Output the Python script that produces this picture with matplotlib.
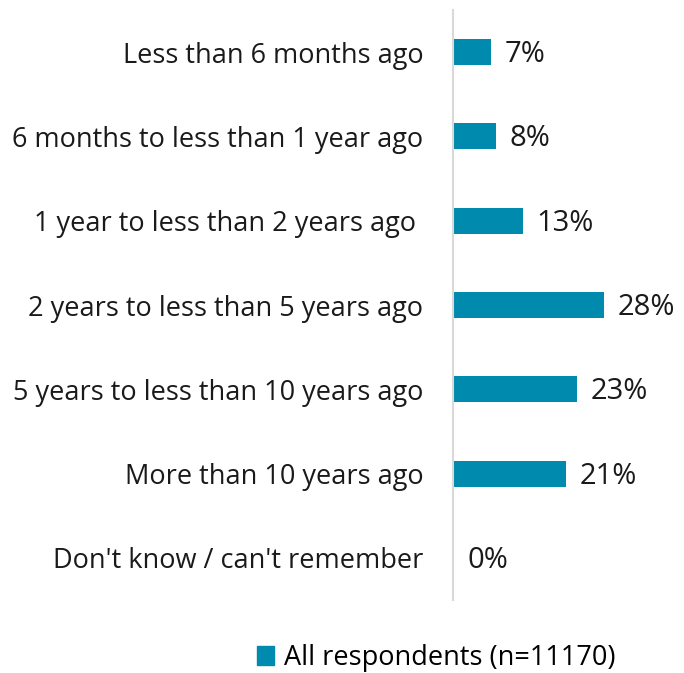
import matplotlib.pyplot as plt
from matplotlib.patches import Patch

categories = [
    "Less than 6 months ago",
    "6 months to less than 1 year ago",
    "1 year to less than 2 years ago ",
    "2 years to less than 5 years ago",
    "5 years to less than 10 years ago",
    "More than 10 years ago",
    "Don't know / can't remember",
]
values = [7, 8, 13, 28, 23, 21, 0.15]
labels = ["7%", "8%", "13%", "28%", "23%", "21%", "0%"]
series_name = "All respondents (n=11170)"
bar_color = "#008AAD"

plt.rcParams['font.family'] = ['Open Sans', 'DejaVu Sans']
fs = 19.5

fig = plt.figure(figsize=(6.84, 6.73), dpi=100)
W, H = 684, 673
ax = fig.add_axes([453 / W, 1 - 600 / H, (684 - 453) / W, 590 / H])

y = list(range(len(categories)))
ax.barh(y, values, height=0.31, color=bar_color)
ax.set_ylim(len(categories) - 0.5, -0.5)
ax.set_xlim(0, 42.8)

# value labels next to the bars
for yi, v, lab in zip(y, values, labels):
    ax.text(v + 2.5, yi + 0.03, lab, va="center", ha="left", fontsize=21, color="#1a1a1a")

ax.set_yticks(y)
ax.set_yticklabels(categories, fontsize=fs, color="#1a1a1a")
ax.tick_params(axis="y", length=0, pad=21.5)
ax.set_xticks([])
for s in ["top", "right", "bottom"]:
    ax.spines[s].set_visible(False)
ax.spines["left"].set_color("#D9D9D9")
ax.spines["left"].set_linewidth(1.5)

fig.legend(handles=[Patch(color=bar_color)], labels=[series_name],
           loc="center", bbox_to_anchor=(436 / W, 1 - 658 / H), frameon=False,
           fontsize=fs, handlelength=0.65, handleheight=0.65, handletextpad=0.35)

fig.savefig("out.png", dpi=100)
